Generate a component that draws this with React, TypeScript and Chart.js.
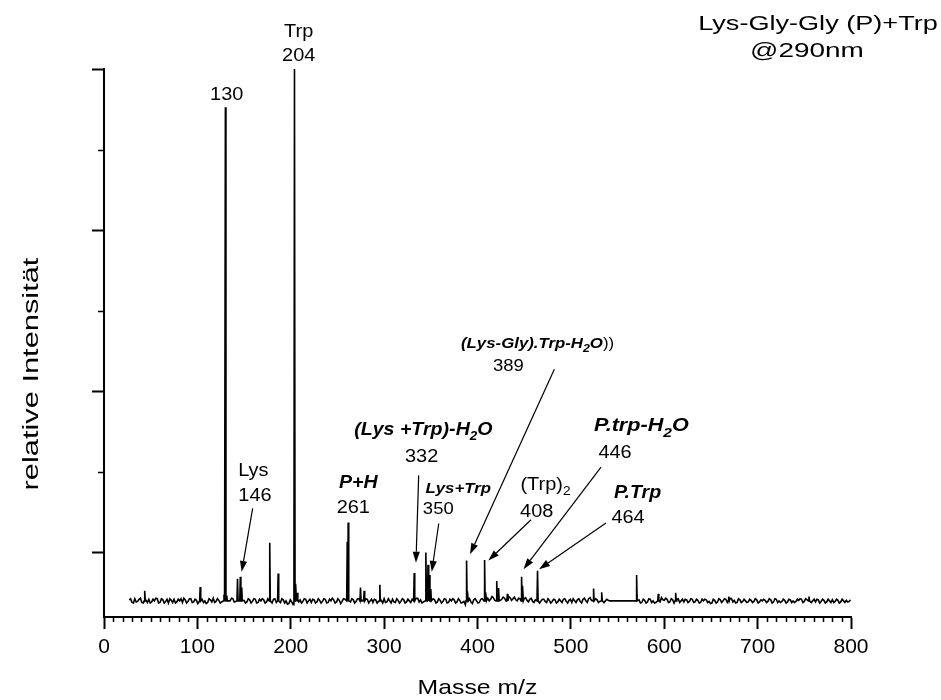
import { useEffect, useRef } from "react";
import { Chart, registerables } from "chart.js";

Chart.register(...registerables);

// ---------- data ----------
// baseline noise of the spectrum: series A at m/z 27 + 3i, series B at m/z 28.5 + 3i
const noiseStartA = 27;
const noiseStartB = 28.5;
const noiseStep = 3;
const noiseValuesA = [
  1.2, 0.7, 1.4, 0.9, 1.5, 0.6, 1.1, 1.3, 0.8, 1.0, 1.4, 0.7, 1.2, 0.9, 0.6, 1.1, 1.3, 0.8, 1.0, 0.7,
  1.2, 0.9, 1.4, 0.8, 1.1, 0.6, 1.3, 1.0, 0.7, 1.2, 1.5, 0.9, 1.1, 0.8, 1.3, 1.6, 1.0, 1.4, 0.9, 1.7,
  1.4, 1.1, 0.8, 1.2, 0.9, 1.3, 0.7, 1.0, 1.2, 0.8, 1.1, 0.6, 1.4, 0.9, 0.7, 1.2, 1.0, 0.5, 0.8, 0.4,
  1.6, 1.2, 0.9, 1.3, 1.0, 0.7, 1.2, 0.8, 1.1, 0.9, 1.3, 0.7, 1.0, 1.2, 0.8, 1.1, 0.9, 1.3, 1.0, 0.8,
  1.2, 0.9, 1.4, 1.1, 0.8, 1.3, 1.0, 0.7, 1.2, 0.9, 1.1, 1.4, 0.8, 1.0, 1.3, 0.7, 1.1, 0.9, 1.2, 0.8,
  1.0, 1.3, 0.9, 1.5, 1.2, 0.8, 1.6, 1.3, 1.0, 1.2, 0.8, 1.1, 0.9, 1.3, 0.7, 1.0, 1.2, 0.8, 1.1, 0.7,
  0.3, 1.1, 0.8, 1.2, 1.0, 0.7, 1.4, 1.2, 1.5, 1.3, 1.6, 1.4, 1.7, 1.3, 1.5, 1.2, 1.6, 1.4, 1.2, 1.5,
  1.8, 1.4, 1.1, 1.3, 0.9, 1.2, 0.8, 1.0, 1.3, 0.7, 1.1, 0.9, 1.2, 0.8, 1.0, 1.3, 0.9, 1.1, 0.7, 1.0,
  1.2, 0.9, 1.3, 1.0, 1.4, 1.1, 1.5, 1.2, 0.9, 1.3, 1.0, 1.1, 1.0, 1.0, 1.0, 1.0, 1.0, 1.0, 1.0, 1.0,
  1.0, 0.9, 1.2, 0.7, 1.1, 0.8, 1.3, 1.0, 0.7, 1.2, 1.6, 1.1, 1.3, 0.8, 1.2, 0.9, 1.4, 1.0, 0.8, 1.2,
  0.9, 1.3, 0.8, 1.1, 0.7, 1.0, 1.2, 0.9, 0.6, 1.1, 0.8, 1.2, 1.0, 1.3, 0.9, 1.4, 1.1, 0.7, 1.2, 0.9,
  1.0, 0.8, 1.1, 0.9, 1.2, 0.8, 1.0, 1.1, 0.9, 1.2, 0.8, 1.3, 1.0, 0.9, 1.1, 0.8, 1.2, 1.0, 0.9, 1.1,
  1.3, 0.9, 1.2, 1.4, 1.0, 0.8, 1.2, 0.9, 1.1, 0.8, 1.0, 1.2, 0.9, 1.1, 0.8, 1.0, 1.1, 0.9,
];
const noiseValuesB = [
  1.4, 0.6, 0.8, 1.3, 0.7, 1.4, 0.7, 0.6, 1.3, 1.5, 0.6, 1.4, 0.6, 1.3, 1.4, 0.7, 0.6, 1.3, 1.4, 1.5,
  0.6, 1.4, 0.7, 1.3, 0.5, 1.4, 0.7, 0.5, 1.4, 0.8, 0.7, 1.4, 0.6, 1.4, 0.9, 1.0, 1.5, 0.8, 1.5, 1.1,
  0.7, 0.6, 1.4, 0.6, 1.4, 0.6, 1.3, 1.4, 0.6, 1.4, 0.5, 1.3, 0.7, 0.5, 1.4, 0.6, 0.4, 1.2, 0.3, 0.9,
  0.8, 0.6, 1.4, 0.6, 1.3, 1.3, 0.6, 1.4, 0.6, 1.4, 0.6, 1.3, 1.5, 0.6, 1.4, 0.5, 1.4, 0.7, 0.6, 1.4,
  0.6, 1.4, 0.7, 0.6, 1.4, 0.6, 1.3, 1.3, 0.6, 1.4, 0.6, 0.7, 1.4, 0.6, 0.8, 1.4, 0.6, 1.4, 0.6, 1.3,
  0.7, 0.6, 1.5, 0.8, 0.6, 1.5, 0.9, 0.7, 1.4, 0.6, 1.4, 0.6, 1.4, 0.6, 1.3, 1.4, 0.6, 1.4, 0.6, 0.9,
  0.2, 1.4, 0.5, 1.4, 0.6, 1.3, 0.9, 1.7, 1.0, 1.8, 1.1, 1.8, 1.1, 1.7, 1.0, 1.8, 1.1, 1.7, 1.0, 1.4,
  1.2, 1.6, 0.8, 1.5, 0.7, 1.4, 0.6, 1.3, 0.9, 1.4, 0.6, 1.3, 0.6, 1.3, 0.7, 1.4, 0.6, 1.3, 1.4, 0.7,
  1.4, 0.6, 1.5, 0.7, 1.6, 0.8, 1.4, 0.7, 1.4, 0.7, 1.3, 1.0, 1.0, 1.0, 1.0, 1.0, 1.0, 1.0, 1.0, 1.0,
  1.0, 1.3, 0.6, 1.3, 0.6, 1.4, 0.7, 0.6, 1.4, 0.8, 1.2, 1.5, 0.7, 1.4, 0.6, 1.3, 0.7, 1.3, 1.3, 0.7,
  1.4, 0.7, 1.3, 0.6, 1.3, 1.3, 0.7, 0.5, 1.3, 0.6, 1.4, 0.7, 1.4, 0.7, 1.5, 0.8, 0.6, 1.4, 0.7, 1.3,
  0.7, 1.3, 0.7, 1.4, 0.6, 1.2, 1.3, 0.7, 1.4, 0.6, 1.4, 0.7, 0.7, 1.3, 0.6, 1.3, 0.7, 0.7, 1.3, 1.4,
  0.7, 1.4, 0.8, 0.7, 1.3, 1.3, 0.6, 1.3, 0.6, 1.3, 0.7, 0.7, 1.3, 0.6, 1.3, 0.7, 0.8, 1.2,
];
const baselineLevel = 1.0;

// peaks (m/z, relative intensity)
const peakMz = [
  43.6, 103, 128.5, 130, 131.5, 143, 146, 147.5, 177.5, 186.5,
  204, 205.5, 207, 260.5, 261.5, 274.7, 278.6, 295.4, 332.2, 344.7,
  347, 348.5, 350, 388.3, 389.5, 407.6, 409, 420.6, 422.6, 432,
  447.2, 448.5, 464.3, 524.3, 533, 570.4, 593.6, 612.2, 669, 755,
];
const peakHeight = [
  2.9, 3.6, 2.2, 92.9, 2.0, 5.1, 5.5, 3.5, 11.8, 6.1,
  100, 4.2, 2.5, 12.0, 15.6, 3.5, 2.9, 4.0, 6.2, 10.0,
  7.7, 5.8, 3.2, 8.5, 2.8, 8.6, 2.6, 4.7, 3.4, 2.3,
  5.5, 3.8, 6.6, 3.3, 2.6, 5.8, 2.3, 2.5, 1.8, 1.8,
];

// axes
const xMin = 0;
const xMax = 800;
const xTickValues = [0, 100, 200, 300, 400, 500, 600, 700, 800];
const xMinorStep = 10;
const yMin = -2;
const yMax = 100;
const yMajorTicks = [10, 40, 70, 100];
const yMinorTicks = [25, 55, 85];

// texts
const titleLines = ["Lys-Gly-Gly (P)+Trp", "@290nm"];
const xTitle = "Masse m/z";
const yTitle = "relative Intensität";

// annotations (anchor in data coordinates: m/z, intensity)
type Part = { t: string; sub?: boolean; plain?: boolean };
type Label = { parts: Part[]; mz: number; val: number; style: string };
const labels: Label[] = [
  { parts: [{ t: "Trp" }], mz: 208.5, val: 105.9, style: "reg" },
  { parts: [{ t: "204" }], mz: 208.5, val: 101.4, style: "reg" },
  { parts: [{ t: "130" }], mz: 131.4, val: 94.2, style: "reg" },
  { parts: [{ t: "Lys" }], mz: 159.9, val: 24.2, style: "reg" },
  { parts: [{ t: "146" }], mz: 161.7, val: 19.5, style: "reg" },
  { parts: [{ t: "P+H" }], mz: 272.3, val: 22.0, style: "bold" },
  { parts: [{ t: "261" }], mz: 267.0, val: 17.3, style: "reg" },
  { parts: [{ t: "(Lys +Trp)-H" }, { t: "2", sub: true }, { t: "O" }], mz: 342.0, val: 31.9, style: "bold" },
  { parts: [{ t: "332" }], mz: 340.2, val: 26.9, style: "reg" },
  { parts: [{ t: "Lys+Trp" }], mz: 379.4, val: 21.0, style: "boldSmall" },
  { parts: [{ t: "350" }], mz: 358.0, val: 17.1, style: "regSmall" },
  { parts: [{ t: "(Lys-Gly).Trp-H" }, { t: "2", sub: true }, { t: "O" }, { t: "))", plain: true }], mz: 464.3, val: 48.1, style: "boldSmall" },
  { parts: [{ t: "389" }], mz: 433.0, val: 43.7, style: "regSmall" },
  { parts: [{ t: "(Trp)" }, { t: "2", sub: true }], mz: 472.8, val: 21.6, style: "reg" },
  { parts: [{ t: "408" }], mz: 463.4, val: 16.7, style: "reg" },
  { parts: [{ t: "P.trp-H" }, { t: "2", sub: true }, { t: "O" }], mz: 575.5, val: 32.6, style: "boldLarge" },
  { parts: [{ t: "446" }], mz: 547.3, val: 27.6, style: "reg" },
  { parts: [{ t: "P.Trp" }], mz: 571.4, val: 20.1, style: "bold" },
  { parts: [{ t: "464" }], mz: 561.2, val: 15.5, style: "reg" },
];

// arrows: from (m/z, intensity) to (m/z, intensity)
const arrowFrom = [
  [159.2, 18.2], [337.0, 24.4], [358.5, 15.4], [482.3, 44.1], [457.3, 16.1], [532.3, 25.9], [537.6, 15.5],
];
const arrowTo = [
  [147.4, 6.4], [334.1, 8.1], [351.0, 6.4], [392.0, 9.7], [411.6, 8.5], [449.3, 6.9], [465.9, 6.9],
];

// ---------- styles ----------
const FAMILY = '"Liberation Sans", Arial, Helvetica, sans-serif';
const labelStyles: Record<string, { size: number; bold: boolean; stretch: number }> = {
  reg: { size: 17.5, bold: false, stretch: 1.14 },
  regSmall: { size: 16.5, bold: false, stretch: 1.12 },
  bold: { size: 17.5, bold: true, stretch: 1.12 },
  boldLarge: { size: 18, bold: true, stretch: 1.2 },
  boldSmall: { size: 15, bold: true, stretch: 1.12 },
};

function drawRich(
  ctx: CanvasRenderingContext2D,
  parts: Part[],
  cx: number,
  baseY: number,
  size: number,
  bold: boolean,
  stretch: number
) {
  const fontFor = (p: Part) => {
    const s = p.sub ? Math.round(size * 0.7) : size;
    const b = bold && !p.plain;
    return `${b ? "italic bold " : ""}${s}px ${FAMILY}`;
  };
  let total = 0;
  const widths = parts.map((p) => {
    ctx.font = fontFor(p);
    const w = ctx.measureText(p.t).width;
    total += w;
    return w;
  });
  ctx.save();
  ctx.translate(cx - (total * stretch) / 2, baseY);
  ctx.scale(stretch, 1);
  ctx.textAlign = "left";
  ctx.textBaseline = "alphabetic";
  ctx.fillStyle = "#000";
  let cur = 0;
  parts.forEach((p, i) => {
    ctx.font = fontFor(p);
    ctx.fillText(p.t, cur, p.sub ? size * 0.3 : 0);
    cur += widths[i];
  });
  ctx.restore();
}

const decorPlugin = {
  id: "decor",
  afterDraw(chart: any) {
    const ctx: CanvasRenderingContext2D = chart.ctx;
    const xs = chart.scales.x;
    const ys = chart.scales.y;
    const area = chart.chartArea;
    ctx.save();
    ctx.strokeStyle = "#000";
    ctx.fillStyle = "#000";
    // minor ticks
    ctx.lineWidth = 1.5;
    ctx.beginPath();
    for (let v = xMin + xMinorStep; v < xMax; v += xMinorStep) {
      if (xTickValues.includes(v)) continue;
      const px = Math.round(xs.getPixelForValue(v)) + 0.5;
      ctx.moveTo(px, area.bottom);
      ctx.lineTo(px, area.bottom + 5);
    }
    yMinorTicks.forEach((v) => {
      const py = Math.round(ys.getPixelForValue(v)) + 0.5;
      ctx.moveTo(area.left, py);
      ctx.lineTo(area.left - 6, py);
    });
    ctx.stroke();

    // arrows
    ctx.lineWidth = 1.2;
    arrowFrom.forEach((f, i) => {
      const t = arrowTo[i];
      const x1 = xs.getPixelForValue(f[0]);
      const y1 = ys.getPixelForValue(f[1]);
      const x2 = xs.getPixelForValue(t[0]);
      const y2 = ys.getPixelForValue(t[1]);
      const ang = Math.atan2(y2 - y1, x2 - x1);
      const hl = 11;
      const hw = 3.6;
      const bx = x2 - hl * Math.cos(ang);
      const by = y2 - hl * Math.sin(ang);
      ctx.beginPath();
      ctx.moveTo(x1, y1);
      ctx.lineTo(bx, by);
      ctx.stroke();
      ctx.beginPath();
      ctx.moveTo(x2, y2);
      ctx.lineTo(bx + hw * Math.sin(ang), by - hw * Math.cos(ang));
      ctx.lineTo(bx - hw * Math.sin(ang), by + hw * Math.cos(ang));
      ctx.closePath();
      ctx.fill();
    });

    // annotation labels
    labels.forEach((l) => {
      const st = labelStyles[l.style];
      drawRich(ctx, l.parts, xs.getPixelForValue(l.mz), ys.getPixelForValue(l.val), st.size, st.bold, st.stretch);
    });

    // title
    drawRich(ctx, [{ t: titleLines[0] }], 818, 30, 21, false, 1.29);
    drawRich(ctx, [{ t: titleLines[1] }], 807, 57, 21, false, 1.33);

    // axis titles
    drawRich(ctx, [{ t: xTitle }], (area.left + area.right) / 2, 694, 21, false, 1.18);
    ctx.save();
    ctx.translate(38, 374);
    ctx.rotate(-Math.PI / 2);
    drawRich(ctx, [{ t: yTitle }], 0, 0, 22, false, 1.4);
    ctx.restore();

    ctx.restore();
  },
};

export default function App() {
  const ref = useRef<HTMLCanvasElement | null>(null);

  useEffect(() => {
    const canvas = ref.current;
    if (!canvas) return;

    const nearPeak = (x: number) => peakMz.some((m) => Math.abs(x - m) < 1.2);
    const noisePts = [
      ...noiseValuesA.map((v, i) => ({ x: noiseStartA + i * noiseStep, y: v })),
      ...noiseValuesB.map((v, i) => ({ x: noiseStartB + i * noiseStep, y: v })),
    ].filter((p) => p.x <= xMax && !nearPeak(p.x));
    const peakPts: { x: number; y: number }[] = [];
    peakMz.forEach((m, i) => {
      peakPts.push({ x: m - 0.6, y: baselineLevel }, { x: m, y: peakHeight[i] }, { x: m + 0.6, y: baselineLevel });
    });
    const pts = [...noisePts, ...peakPts].sort((a, b) => a.x - b.x);

    const tickFont = { family: FAMILY, size: 21 };

    const chart = new Chart(canvas, {
      type: "line",
      data: {
        datasets: [
          {
            data: pts,
            borderColor: "#000",
            borderWidth: 1.6,
            pointRadius: 0,
            tension: 0,
            fill: false,
          },
        ],
      },
      options: {
        animation: false,
        responsive: false,
        maintainAspectRatio: false,
        layout: { padding: { left: 84, right: 90, top: 69, bottom: 38 } },
        plugins: {
          legend: { display: false },
          tooltip: { enabled: false },
          title: { display: false },
        },
        scales: {
          x: {
            type: "linear",
            min: xMin,
            max: xMax,
            afterBuildTicks: (s: any) => {
              s.ticks = xTickValues.map((v) => ({ value: v }));
            },
            afterFit: (s: any) => {
              s.height = 45;
            },
            ticks: {
              font: tickFont,
              color: "#000",
              padding: 6,
              maxRotation: 0,
              autoSkip: false,
            },
            grid: {
              drawOnChartArea: false,
              drawTicks: true,
              tickLength: 12,
              tickWidth: 2,
              tickColor: "#000",
            },
            border: { display: true, color: "#000", width: 2 },
          },
          y: {
            type: "linear",
            min: yMin,
            max: yMax,
            afterBuildTicks: (s: any) => {
              s.ticks = yMajorTicks.map((v) => ({ value: v }));
            },
            afterFit: (s: any) => {
              s.width = 20;
            },
            ticks: { display: false },
            grid: {
              drawOnChartArea: false,
              drawTicks: true,
              tickLength: 12,
              tickWidth: 2,
              tickColor: "#000",
            },
            border: { display: true, color: "#000", width: 2 },
          },
        },
      } as any,
      plugins: [decorPlugin],
    });

    return () => chart.destroy();
  }, []);

  return (
    <div style={{ position: "absolute", left: 0, top: 0, width: 941, height: 700, background: "#fff" }}>
      <canvas ref={ref} width={941} height={700} style={{ display: "block" }} />
    </div>
  );
}
